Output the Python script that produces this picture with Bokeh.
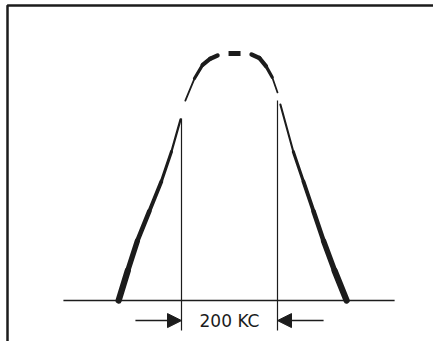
from bokeh.plotting import figure
from bokeh.models import Range1d, ColumnDataSource, Arrow, NormalHead, Label
from bokeh.embed import file_html
from bokeh.resources import INLINE

# Resonance (selectivity) curve
# x: frequency offset from centre in kc, y: relative response
left_skirt_kc = [-231, -212, -192, -167, -142, -121, -102]
left_skirt_amp = [0.0, 0.12, 0.24, 0.36, 0.48, 0.60, 0.73]
right_skirt_kc = [106, 133, 154, 175, 196, 219, 244]
right_skirt_amp = [0.79, 0.60, 0.48, 0.36, 0.24, 0.12, 0.0]
cap_left_kc = [-92, -73, -56, -40, -25]
cap_left_amp = [0.806, 0.895, 0.95, 0.975, 0.988]
cap_mid_kc = [-2, 23]
cap_mid_amp = [0.996, 0.996]
cap_right_kc = [46, 62, 76, 89, 100]
cap_right_amp = [0.992, 0.978, 0.945, 0.90, 0.839]

bandwidth_kc = 200
marker_top_amp = [0.734, 0.806]   # tops of the two bandwidth markers
marker_bottom_amp = -0.121
baseline_kc = [-346, 344]
dim_amp = -0.081
arrow_len_kc = 96
band_label = "200 KC"

ink = "#1c1c1c"
W, H = 433, 341
kc_per_px = 1 / 0.48
amp_per_px = 1 / 248.0
x0 = -229 * kc_per_px
y1 = 300 * amp_per_px

p = figure(width=W, height=H, output_backend="svg", toolbar_location=None,
           x_range=Range1d(x0, x0 + W * kc_per_px), y_range=Range1d(y1 - H * amp_per_px, y1),
           x_axis_type=None, y_axis_type=None, min_border=0,
           background_fill_color="white", border_fill_color="white")
p.grid.visible = False
p.outline_line_color = None

# frame (top and left edges)
xr, yr = p.x_range, p.y_range
fx = xr.start + 7 * kc_per_px
fy = yr.end - 5 * amp_per_px
p.line([fx, fx, xr.end], [yr.start, fy, fy], line_color=ink, line_width=2.5)

# baseline
p.line(baseline_kc, [0, 0], line_color=ink, line_width=1.3)

def stroke(xs, ys, widths, cap="round"):
    src = ColumnDataSource(dict(x0=xs[:-1], y0=ys[:-1], x1=xs[1:], y1=ys[1:], w=widths))
    p.segment("x0", "y0", "x1", "y1", source=src, line_color=ink, line_width="w", line_cap=cap)

def skirt_widths(ys):
    mids = [(a + b) / 2 for a, b in zip(ys[:-1], ys[1:])]
    return [1.4 + 5.2 * (1 - m / 0.8) for m in mids]

stroke(left_skirt_kc, left_skirt_amp, skirt_widths(left_skirt_amp))
stroke(right_skirt_kc, right_skirt_amp, skirt_widths(right_skirt_amp))
stroke(cap_left_kc, cap_left_amp, [1.8, 3.2, 4.2, 4.5])
stroke(cap_mid_kc, cap_mid_amp, [5], cap="butt")
stroke(cap_right_kc, cap_right_amp, [4.5, 4.2, 3.2, 1.8])

# bandwidth markers
half = bandwidth_kc / 2
p.segment([-half, half], [marker_bottom_amp] * 2, [-half, half], marker_top_amp,
          line_color=ink, line_width=1.2)

# dimension arrows
for start, end in [(-half - arrow_len_kc, -half), (half + arrow_len_kc, half)]:
    p.add_layout(Arrow(end=NormalHead(size=14, fill_color=ink, line_color=ink, line_width=1),
                       x_start=start, y_start=dim_amp, x_end=end, y_end=dim_amp,
                       line_color=ink, line_width=1.5))

p.add_layout(Label(x=0, y=dim_amp, text=band_label, text_align="center",
                   text_baseline="middle", text_font="DejaVu Sans",
                   text_font_size="17px", text_color=ink))

open("out.html", "w").write(file_html(p, INLINE))
